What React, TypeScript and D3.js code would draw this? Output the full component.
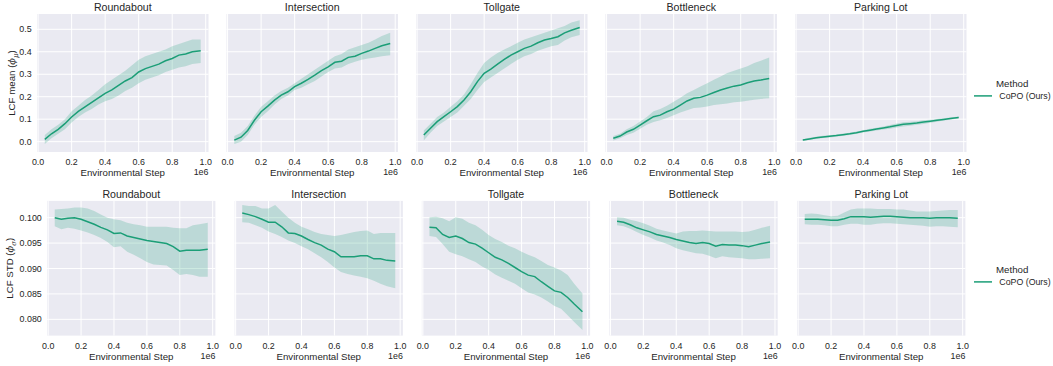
import { useEffect, useRef } from 'react';
import * as d3 from 'd3';

// environmental steps (in 1e6)
const steps = [0.04, 0.08, 0.12, 0.16, 0.20, 0.24, 0.28, 0.32, 0.36, 0.40, 0.44, 0.48, 0.52, 0.56, 0.60, 0.64, 0.68, 0.72, 0.76, 0.80, 0.84, 0.88, 0.92, 0.97];

const envNames = ['Roundabout', 'Intersection', 'Tollgate', 'Bottleneck', 'Parking Lot'];

// LCF mean
const meanRoundabout = [0.01, 0.035, 0.055, 0.08, 0.11, 0.135, 0.155, 0.175, 0.195, 0.215, 0.23, 0.25, 0.27, 0.285, 0.31, 0.325, 0.335, 0.345, 0.36, 0.37, 0.385, 0.39, 0.40, 0.405];
const meanRoundaboutHi = [0.03, 0.055, 0.075, 0.10, 0.135, 0.16, 0.185, 0.205, 0.23, 0.255, 0.275, 0.295, 0.315, 0.34, 0.365, 0.38, 0.39, 0.40, 0.41, 0.425, 0.435, 0.445, 0.455, 0.455];
const meanRoundaboutLo = [-0.01, 0.015, 0.035, 0.055, 0.085, 0.11, 0.13, 0.145, 0.165, 0.18, 0.19, 0.205, 0.225, 0.24, 0.26, 0.275, 0.285, 0.295, 0.31, 0.32, 0.33, 0.335, 0.345, 0.35];

const meanIntersection = [0.007, 0.02, 0.05, 0.095, 0.133, 0.158, 0.185, 0.207, 0.222, 0.245, 0.26, 0.277, 0.296, 0.316, 0.333, 0.353, 0.358, 0.375, 0.38, 0.393, 0.403, 0.415, 0.427, 0.437];
const meanIntersectionHi = [0.025, 0.04, 0.07, 0.115, 0.155, 0.18, 0.205, 0.225, 0.24, 0.26, 0.28, 0.30, 0.32, 0.34, 0.36, 0.38, 0.39, 0.41, 0.42, 0.43, 0.44, 0.455, 0.47, 0.485];
const meanIntersectionLo = [-0.01, 0.0, 0.03, 0.075, 0.11, 0.135, 0.165, 0.19, 0.205, 0.23, 0.24, 0.255, 0.27, 0.29, 0.31, 0.325, 0.33, 0.345, 0.355, 0.365, 0.37, 0.375, 0.38, 0.385];

const meanTollgate = [0.03, 0.06, 0.089, 0.111, 0.133, 0.156, 0.185, 0.222, 0.267, 0.304, 0.323, 0.345, 0.366, 0.385, 0.40, 0.415, 0.425, 0.44, 0.452, 0.459, 0.467, 0.484, 0.496, 0.508];
const meanTollgateHi = [0.05, 0.08, 0.11, 0.13, 0.155, 0.18, 0.21, 0.255, 0.305, 0.35, 0.375, 0.395, 0.41, 0.425, 0.44, 0.455, 0.465, 0.475, 0.485, 0.495, 0.505, 0.515, 0.53, 0.54];
const meanTollgateLo = [0.005, 0.04, 0.07, 0.09, 0.11, 0.13, 0.16, 0.19, 0.23, 0.265, 0.285, 0.305, 0.325, 0.345, 0.365, 0.38, 0.39, 0.405, 0.415, 0.425, 0.43, 0.45, 0.465, 0.475];

const meanBottleneck = [0.015, 0.025, 0.043, 0.055, 0.074, 0.093, 0.111, 0.118, 0.133, 0.145, 0.163, 0.181, 0.193, 0.197, 0.207, 0.219, 0.23, 0.239, 0.247, 0.252, 0.262, 0.27, 0.274, 0.281];
const meanBottleneckHi = [0.025, 0.035, 0.055, 0.07, 0.09, 0.11, 0.135, 0.145, 0.16, 0.178, 0.195, 0.215, 0.23, 0.245, 0.26, 0.275, 0.29, 0.305, 0.315, 0.325, 0.335, 0.35, 0.36, 0.375];
const meanBottleneckLo = [0.005, 0.015, 0.03, 0.04, 0.057, 0.075, 0.088, 0.095, 0.105, 0.118, 0.13, 0.14, 0.15, 0.152, 0.156, 0.163, 0.167, 0.17, 0.175, 0.178, 0.182, 0.187, 0.19, 0.193];

const meanParking = [0.007, 0.012, 0.017, 0.021, 0.024, 0.027, 0.031, 0.035, 0.04, 0.046, 0.051, 0.056, 0.061, 0.066, 0.072, 0.077, 0.08, 0.083, 0.087, 0.091, 0.095, 0.099, 0.103, 0.108];
const meanParkingHi = [0.011, 0.017, 0.022, 0.026, 0.029, 0.032, 0.036, 0.040, 0.045, 0.051, 0.057, 0.062, 0.068, 0.074, 0.081, 0.086, 0.089, 0.091, 0.095, 0.098, 0.101, 0.104, 0.108, 0.112];
const meanParkingLo = [0.003, 0.008, 0.012, 0.016, 0.019, 0.022, 0.026, 0.030, 0.035, 0.041, 0.045, 0.050, 0.054, 0.058, 0.063, 0.068, 0.071, 0.075, 0.079, 0.084, 0.089, 0.094, 0.098, 0.104];

// LCF std
const stdRoundabout = [0.1000, 0.0997, 0.0999, 0.1000, 0.0997, 0.0992, 0.0987, 0.0981, 0.0976, 0.0969, 0.0970, 0.0964, 0.0961, 0.0958, 0.0955, 0.0953, 0.0951, 0.0949, 0.0943, 0.0934, 0.0936, 0.0936, 0.0936, 0.0938];
const stdRoundaboutHi = [0.1016, 0.1017, 0.1018, 0.1020, 0.1020, 0.1018, 0.1013, 0.1006, 0.1000, 0.0997, 0.0995, 0.0990, 0.0987, 0.0985, 0.0982, 0.0982, 0.0982, 0.0982, 0.0980, 0.0979, 0.0979, 0.0985, 0.0987, 0.0990];
const stdRoundaboutLo = [0.0983, 0.0977, 0.0980, 0.0978, 0.0975, 0.0971, 0.0966, 0.0960, 0.0952, 0.0942, 0.0944, 0.0933, 0.0927, 0.0920, 0.0913, 0.0908, 0.0907, 0.0906, 0.0897, 0.0887, 0.0889, 0.0887, 0.0884, 0.0884];

const stdIntersection = [0.1009, 0.1006, 0.1002, 0.0997, 0.0991, 0.0991, 0.0982, 0.0970, 0.0969, 0.0964, 0.0957, 0.0951, 0.0946, 0.0938, 0.0933, 0.0923, 0.0923, 0.0923, 0.0925, 0.0925, 0.0919, 0.0919, 0.0916, 0.0915];
const stdIntersectionHi = [0.1025, 0.1023, 0.1023, 0.1018, 0.1018, 0.1025, 0.1012, 0.1000, 0.0990, 0.0982, 0.0977, 0.0972, 0.0968, 0.0966, 0.0964, 0.0966, 0.0969, 0.0972, 0.0974, 0.0975, 0.0968, 0.0970, 0.0970, 0.0970];
const stdIntersectionLo = [0.0991, 0.0990, 0.0985, 0.0980, 0.0973, 0.0968, 0.0962, 0.0955, 0.0950, 0.0944, 0.0938, 0.0930, 0.0922, 0.0913, 0.0902, 0.0893, 0.0889, 0.0886, 0.0884, 0.0881, 0.0876, 0.0870, 0.0865, 0.0861];

const stdTollgate = [0.0981, 0.0980, 0.0967, 0.0961, 0.0964, 0.0959, 0.0951, 0.0948, 0.0940, 0.0931, 0.0922, 0.0917, 0.0910, 0.0902, 0.0894, 0.0887, 0.0884, 0.0874, 0.0865, 0.0856, 0.0853, 0.0843, 0.0830, 0.0815];
const stdTollgateHi = [0.1001, 0.1002, 0.0999, 0.0993, 0.1001, 0.0998, 0.0990, 0.0985, 0.0976, 0.0966, 0.0958, 0.0952, 0.0945, 0.0940, 0.0933, 0.0927, 0.0922, 0.0915, 0.0907, 0.0902, 0.0896, 0.0887, 0.0870, 0.0851];
const stdTollgateLo = [0.0964, 0.0962, 0.0948, 0.0933, 0.0928, 0.0924, 0.0918, 0.0913, 0.0904, 0.0897, 0.0888, 0.0882, 0.0876, 0.0870, 0.0861, 0.0853, 0.0849, 0.0843, 0.0835, 0.0826, 0.0821, 0.0808, 0.0795, 0.0779];

const stdBottleneck = [0.0993, 0.0991, 0.0986, 0.0980, 0.0976, 0.0972, 0.0967, 0.0964, 0.0961, 0.0957, 0.0954, 0.0951, 0.0949, 0.0951, 0.0949, 0.0944, 0.0947, 0.0946, 0.0946, 0.0945, 0.0943, 0.0946, 0.0949, 0.0952];
const stdBottleneckHi = [0.1001, 0.1000, 0.0996, 0.0993, 0.0989, 0.0984, 0.0978, 0.0975, 0.0972, 0.0969, 0.0973, 0.0974, 0.0974, 0.0975, 0.0974, 0.0973, 0.0973, 0.0973, 0.0973, 0.0972, 0.0973, 0.0976, 0.0980, 0.0984];
const stdBottleneckLo = [0.0985, 0.0983, 0.0978, 0.0972, 0.0966, 0.0961, 0.0955, 0.0951, 0.0946, 0.0940, 0.0936, 0.0933, 0.0930, 0.0929, 0.0925, 0.0920, 0.0924, 0.0922, 0.0921, 0.0920, 0.0918, 0.0918, 0.0919, 0.0920];

const stdParking = [0.0997, 0.0997, 0.0997, 0.0996, 0.0995, 0.0995, 0.0998, 0.1002, 0.1002, 0.1002, 0.1001, 0.1002, 0.1003, 0.1003, 0.1002, 0.1001, 0.1000, 0.1000, 0.1000, 0.0999, 0.1000, 0.1000, 0.1000, 0.0999];
const stdParkingHi = [0.1007, 0.1008, 0.1007, 0.1005, 0.1003, 0.1004, 0.1010, 0.1016, 0.1018, 0.1018, 0.1018, 0.1017, 0.1017, 0.1017, 0.1016, 0.1016, 0.1014, 0.1012, 0.1012, 0.1012, 0.1013, 0.1014, 0.1015, 0.1015];
const stdParkingLo = [0.0987, 0.0986, 0.0986, 0.0985, 0.0983, 0.0983, 0.0986, 0.0988, 0.0988, 0.0986, 0.0986, 0.0988, 0.0989, 0.0989, 0.0988, 0.0987, 0.0986, 0.0985, 0.0984, 0.0982, 0.0983, 0.0983, 0.0982, 0.0981];

const xTicks = [0, 0.2, 0.4, 0.6, 0.8, 1.0];
const meanTicks = [0, 0.1, 0.2, 0.3, 0.4, 0.5];
const stdTicks = [0.080, 0.085, 0.090, 0.095, 0.100];

const COLOR = '#1b9e77';
const BG = '#EAEAF2';
const TEXT = '#262626';
const FONT = '"Liberation Sans", Arial, sans-serif';

const App = () => {
  const svgRef = useRef<SVGSVGElement>(null);

  useEffect(() => {
    const svg = d3.select(svgRef.current);
    svg.selectAll('*').remove();

    const rows = [
      {
        lefts: [37, 226.5, 416, 605.5, 795], width: 171.5, top: 14, bottom: 152,
        domain: [-0.046, 0.568], ticks: meanTicks, fmt: d3.format('.1f'),
        series: [
          [meanRoundabout, meanRoundaboutLo, meanRoundaboutHi],
          [meanIntersection, meanIntersectionLo, meanIntersectionHi],
          [meanTollgate, meanTollgateLo, meanTollgateHi],
          [meanBottleneck, meanBottleneckLo, meanBottleneckHi],
          [meanParking, meanParkingLo, meanParkingHi],
        ],
        ylabel: ['LCF mean (', 'μ', ')'], ylabelX: 12, legendY: 86.5,
      },
      {
        lefts: [47.1, 234.6, 421.8, 609.4, 797.1], width: 168.3, top: 200.9, bottom: 335.6,
        domain: [0.0768, 0.1033], ticks: stdTicks, fmt: d3.format('.3f'),
        series: [
          [stdRoundabout, stdRoundaboutLo, stdRoundaboutHi],
          [stdIntersection, stdIntersectionLo, stdIntersectionHi],
          [stdTollgate, stdTollgateLo, stdTollgateHi],
          [stdBottleneck, stdBottleneckLo, stdBottleneckHi],
          [stdParking, stdParkingLo, stdParkingHi],
        ],
        ylabel: ['LCF STD (', 'σ', ')'], ylabelX: 10, legendY: 272.5,
      },
    ];

    rows.forEach((row) => {
      const y = d3.scaleLinear().domain(row.domain).range([row.bottom, row.top]);

      row.lefts.forEach((left, i) => {
        const x = d3.scaleLinear().domain([-0.0065, 1.0165]).range([left, left + row.width]);
        const g = svg.append('g');

        g.append('rect')
          .attr('x', left).attr('y', row.top)
          .attr('width', row.width).attr('height', row.bottom - row.top)
          .attr('fill', BG);

        // grid
        g.selectAll('.vg').data(xTicks).join('line')
          .attr('x1', d => x(d)).attr('x2', d => x(d))
          .attr('y1', row.top).attr('y2', row.bottom)
          .attr('stroke', '#fff').attr('stroke-width', 1);
        g.selectAll('.hg').data(row.ticks).join('line')
          .attr('x1', left).attr('x2', left + row.width)
          .attr('y1', d => y(d)).attr('y2', d => y(d))
          .attr('stroke', '#fff').attr('stroke-width', 1);

        const [mean, lo, hi] = row.series[i];
        const area = d3.area<number>()
          .x((_, j) => x(steps[j]))
          .y0((_, j) => y(lo[j]))
          .y1((_, j) => y(hi[j]));
        const line = d3.line<number>()
          .x((_, j) => x(steps[j]))
          .y(d => y(d));

        g.append('path').attr('d', area(mean)).attr('fill', COLOR).attr('fill-opacity', 0.22);
        g.append('path').attr('d', line(mean)).attr('fill', 'none')
          .attr('stroke', COLOR).attr('stroke-width', 1.5);

        // x tick labels
        g.selectAll('.xt').data(xTicks).join('text')
          .attr('x', d => x(d)).attr('y', row.bottom + 13)
          .attr('text-anchor', 'middle')
          .attr('font-size', 8.9).attr('font-family', FONT).attr('fill', TEXT)
          .text(d => d3.format('.1f')(d));

        g.append('text')
          .attr('x', left + row.width / 2).attr('y', row.bottom + 24.4)
          .attr('text-anchor', 'middle')
          .attr('font-size', 9.7).attr('font-family', FONT).attr('fill', TEXT)
          .text('Environmental Step');

        g.append('text')
          .attr('x', left + row.width).attr('y', row.bottom + 23.3)
          .attr('text-anchor', 'end')
          .attr('font-size', 8.9).attr('font-family', FONT).attr('fill', TEXT)
          .text('1e6');

        g.append('text')
          .attr('x', left + row.width / 2).attr('y', row.top - 3.4)
          .attr('text-anchor', 'middle')
          .attr('font-size', 10.6).attr('font-family', FONT).attr('fill', TEXT)
          .text(envNames[i]);

        if (i === 0) {
          g.selectAll('.yt').data(row.ticks).join('text')
            .attr('x', left - 5.3).attr('y', d => y(d))
            .attr('dy', '0.35em')
            .attr('text-anchor', 'end')
            .attr('font-size', 8.9).attr('font-family', FONT).attr('fill', TEXT)
            .text(d => row.fmt(d));

          const cy = (row.top + row.bottom) / 2;
          const lab = g.append('text')
            .attr('transform', `translate(${row.ylabelX},${cy}) rotate(-90)`)
            .attr('text-anchor', 'middle').attr('dy', '0.35em')
            .attr('font-size', 9.7).attr('font-family', FONT).attr('fill', TEXT);
          lab.append('tspan').text(row.ylabel[0]);
          lab.append('tspan').attr('font-style', 'italic').attr('font-family', '"DejaVu Serif", serif').text('ϕ');
          lab.append('tspan').attr('font-style', 'italic').attr('font-family', '"DejaVu Serif", serif')
            .attr('font-size', 7).attr('dy', '2.5').text(row.ylabel[1]);
          lab.append('tspan').attr('dy', '-2.5').text(row.ylabel[2]);
        }
      });

      // legend
      const lg = svg.append('g');
      lg.append('text')
        .attr('x', 996).attr('y', row.legendY)
        .attr('font-size', 9.7).attr('font-family', FONT).attr('fill', TEXT)
        .text('Method');
      lg.append('line')
        .attr('x1', 974).attr('x2', 992)
        .attr('y1', row.legendY + 9.4).attr('y2', row.legendY + 9.4)
        .attr('stroke', COLOR).attr('stroke-width', 1.5);
      lg.append('text')
        .attr('x', 999.3).attr('y', row.legendY + 12.6)
        .attr('font-size', 8.8).attr('font-family', FONT).attr('fill', TEXT)
        .text('CoPO (Ours)');
    });
  }, []);

  return (
    <svg
      ref={svgRef}
      width={1053}
      height={366}
      style={{ position: 'absolute', left: 0, top: 0, background: '#fff' }}
    />
  );
};

export default App;
